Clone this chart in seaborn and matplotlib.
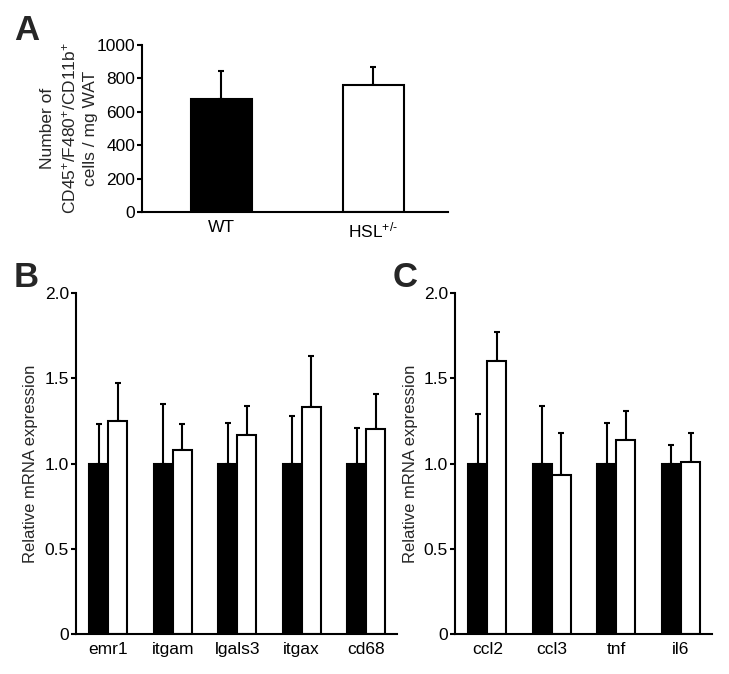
import numpy as np
import pandas as pd
import matplotlib
matplotlib.use("Agg")
import matplotlib.pyplot as plt
import seaborn as sns

# Panel A: macrophage counts
groups = ["WT", r"HSL$^{\text{+/-}}$"]
cell_counts = [678, 760]
cell_counts_err = [166, 108]

# Panel B: macrophage marker genes
genes_b = ["emr1", "itgam", "lgals3", "itgax", "cd68"]
wt_b = [1.0, 1.0, 1.0, 1.0, 1.0]
wt_b_err = [0.23, 0.35, 0.24, 0.28, 0.21]
het_b = [1.25, 1.08, 1.17, 1.33, 1.20]
het_b_err = [0.22, 0.15, 0.17, 0.30, 0.21]

# Panel C: inflammatory genes
genes_c = ["ccl2", "ccl3", "tnf", "il6"]
wt_c = [1.0, 1.0, 1.0, 1.0]
wt_c_err = [0.29, 0.34, 0.24, 0.11]
het_c = [1.60, 0.93, 1.14, 1.01]
het_c_err = [0.17, 0.25, 0.17, 0.17]

sns.set_style("ticks")
plt.rcParams["font.family"] = ["Liberation Sans", "DejaVu Sans"]
plt.rcParams["mathtext.fontset"] = "custom"
plt.rcParams["mathtext.rm"] = "Liberation Sans"
plt.rcParams["mathtext.it"] = "Liberation Sans"
plt.rcParams["font.size"] = 12
LW = 1.5
TICK_FS = 12.5


def style_axis(ax):
    sns.despine(ax=ax)
    for s in ["left", "bottom"]:
        ax.spines[s].set_linewidth(LW)
        ax.spines[s].set_color("black")
    ax.tick_params(axis="y", length=3.5, width=LW, pad=1.5, labelsize=TICK_FS, colors="black")
    ax.tick_params(axis="x", length=0, pad=6, labelsize=TICK_FS, colors="black")
    ax.set_xlabel("")


def add_errors(ax, errs):
    for cont, err in zip(ax.containers, errs):
        xs = [p.get_x() + p.get_width() / 2 for p in cont.patches]
        ys = [p.get_height() for p in cont.patches]
        ax.errorbar(xs, ys, yerr=[np.zeros(len(err)), err], fmt="none",
                    ecolor="black", elinewidth=LW, capsize=2.5, capthick=LW, zorder=1)


fig = plt.figure(figsize=(7.29, 6.74), dpi=100)

# ---- A
axA = fig.add_axes([0.1948, 0.6855, 0.6145 - 0.1948, 0.9332 - 0.6855])
dfA = pd.DataFrame({"group": groups, "count": cell_counts})
sns.barplot(data=dfA, x="group", y="count", hue="group", palette=["black", "white"],
            edgecolor="black", linewidth=LW, width=0.40, legend=False, ax=axA, zorder=2)
xs = [p.get_x() + p.get_width() / 2 for p in axA.patches]
hs = [p.get_height() for p in axA.patches]
axA.errorbar(xs, hs, yerr=[np.zeros(2), cell_counts_err], fmt="none", ecolor="black",
             elinewidth=LW, capsize=2.5, capthick=LW, zorder=1)
axA.set_ylim(0, 1000)
axA.set_yticks(range(0, 1001, 200))
axA.set_xlim(-0.52, 1.49)
style_axis(axA)
axA.set_ylabel("Number of\nCD45$^{+}$/F480$^{+}$/CD11b$^{+}$\ncells / mg WAT",
               fontsize=12.5, linespacing=1.35)
axA.yaxis.set_label_coords(-0.145, 0.5)

# ---- B and C
def expr_panel(rect, genes, wt, wt_err, het, het_err, xmax, label_x):
    ax = fig.add_axes(rect)
    df = pd.DataFrame({
        "gene": genes * 2,
        "group": ["WT"] * len(genes) + ["HSL"] * len(genes),
        "value": wt + het,
    })
    sns.barplot(data=df, x="gene", y="value", hue="group", palette=["black", "white"],
                edgecolor="black", linewidth=LW, width=0.59, gap=0, legend=False,
                ax=ax, zorder=2)
    add_errors(ax, [wt_err, het_err])
    ax.set_ylim(0, 2.0)
    ax.set_yticks([0, 0.5, 1.0, 1.5, 2.0])
    ax.set_yticklabels(["0", "0.5", "1.0", "1.5", "2.0"])
    ax.set_xlim(-0.5, xmax)
    style_axis(ax)
    ax.set_ylabel("Relative mRNA expression", fontsize=12)
    ax.yaxis.set_label_coords(label_x, 0.5)
    return ax


axB = expr_panel([0.1043, 0.0593, 0.5446 - 0.1043, 0.5653 - 0.0593],
                 genes_b, wt_b, wt_b_err, het_b, het_b_err, 4.48, -0.118)
axC = expr_panel([0.6241, 0.0593, 0.9767 - 0.6241, 0.5653 - 0.0593],
                 genes_c, wt_c, wt_c_err, het_c, het_c_err, 3.48, -0.144)

# panel letters
fig.text(0.019, 0.9407, "A", fontsize=25, fontweight="bold", va="baseline")
fig.text(0.019, 0.5742, "B", fontsize=25, fontweight="bold", va="baseline")
fig.text(0.538, 0.5742, "C", fontsize=25, fontweight="bold", va="baseline")

plt.savefig("out.png", dpi=100)
plt.close()
